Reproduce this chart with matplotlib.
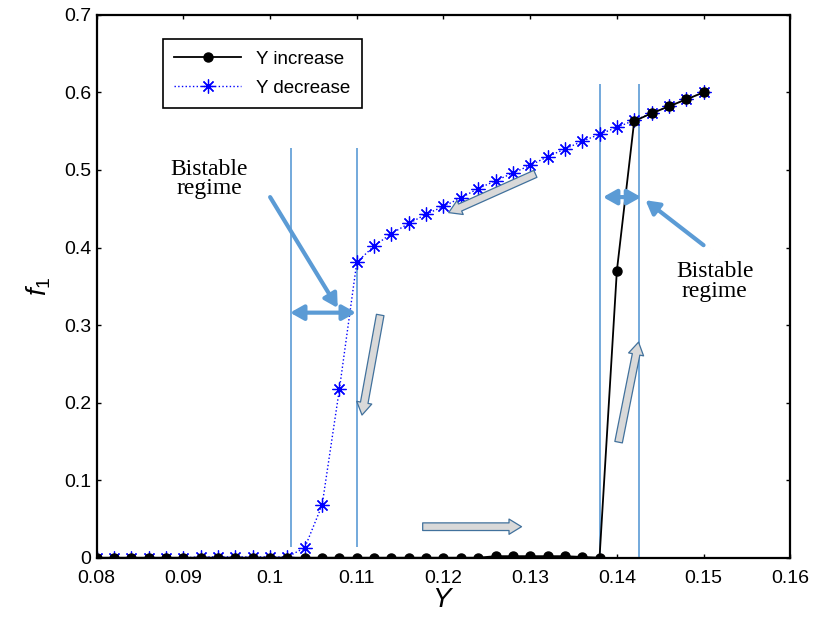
import numpy as np
from matplotlib import pyplot as plt

plt.rcParams['font.family'] = ['Liberation Sans', 'DejaVu Sans']
plt.rcParams['mathtext.fontset'] = 'custom'
plt.rcParams['mathtext.it'] = 'Liberation Sans:italic'
plt.rcParams['mathtext.rm'] = 'Liberation Sans'

# Y increase branch
y_inc = np.arange(0.08, 0.1501, 0.002)
f_inc = [0, 0, 0, 0, 0, 0, 0, 0, 0, 0, 0, 0,
         0, 0, 0, 0, 0, 0, 0, 0, 0, 0, 0,
         0.002, 0.002, 0.002, 0.002, 0.002, 0.001, 0.0,
         0.370, 0.563, 0.573, 0.582, 0.591, 0.600]

# Y decrease branch
y_dec = np.arange(0.15, 0.0799, -0.002)
f_dec = [0.600, 0.591, 0.582, 0.573, 0.564, 0.555, 0.546, 0.537, 0.527, 0.517,
         0.506, 0.496, 0.486, 0.476, 0.464, 0.453, 0.443, 0.431, 0.418, 0.402,
         0.381, 0.218, 0.068, 0.013, 0.001, 0.001, 0.001, 0.001, 0.001, 0.001,
         0.0, 0.0, 0.0, 0.0, 0.0, 0.0]

regime_left = [0.1024, 0.1100]
regime_right = [0.1381, 0.1425]

fig = plt.figure(figsize=(8.13, 6.19), dpi=100)
ax = fig.add_axes([0.119, 0.099, 0.853, 0.877])

blue = '#5B9BD5'

ax.vlines(regime_left, 0.014, 0.528, color=blue, lw=1.2, zorder=1)
ax.vlines(regime_right, 0, 0.611, color=blue, lw=1.2, zorder=1)

ax.plot(y_inc, f_inc, '-', color='k', lw=1.3, marker='o', ms=6.5, label='Y increase', zorder=3)
ax.plot(y_dec, f_dec, ':', color='b', lw=1, marker=(8, 2, 0), ms=10, mew=0.9,
        label='Y decrease', zorder=2)

# blue annotation arrows
arr = dict(arrowstyle='-|>,head_length=0.8,head_width=0.45', color=blue, lw=3,
           shrinkA=0, shrinkB=0)
dbl = dict(arrowstyle='<|-|>,head_length=0.8,head_width=0.45', color=blue, lw=3,
           shrinkA=0, shrinkB=0)
ax.annotate('', xy=(0.1078, 0.322), xytext=(0.1000, 0.465), arrowprops=arr)
ax.annotate('', xy=(0.1099, 0.316), xytext=(0.1023, 0.316), arrowprops=dbl)
ax.annotate('', xy=(0.1428, 0.465), xytext=(0.1384, 0.465), arrowprops=dbl)
ax.annotate('', xy=(0.1433, 0.461), xytext=(0.1500, 0.403), arrowprops=arr)

# gray block arrows showing sweep direction
grey = dict(arrowstyle='simple,head_length=0.9,head_width=1.1,tail_width=0.55',
            fc='#D9D9D9', ec='#41719C', lw=0.9, shrinkA=0, shrinkB=0)
ax.annotate('', xy=(0.1206, 0.445), xytext=(0.1306, 0.495), arrowprops=grey)
ax.annotate('', xy=(0.1106, 0.184), xytext=(0.1127, 0.313), arrowprops=grey)
ax.annotate('', xy=(0.1290, 0.040), xytext=(0.1176, 0.040), arrowprops=grey)
ax.annotate('', xy=(0.1425, 0.278), xytext=(0.1402, 0.149), arrowprops=grey)

ax.text(0.0930, 0.488, 'Bistable\nregime', family='Liberation Serif', fontsize=17,
        ha='center', va='center', linespacing=0.9)
ax.text(0.1513, 0.356, 'Bistable\nregime', family='Liberation Serif', fontsize=17,
        ha='center', va='center', linespacing=0.9)

ax.set_xlim(0.08, 0.16)
ax.set_ylim(0, 0.7)
ax.set_xticks(np.arange(0.08, 0.1601, 0.01))
ax.set_xticklabels(['0.08', '0.09', '0.1', '0.11', '0.12', '0.13', '0.14', '0.15', '0.16'])
ax.set_yticks(np.arange(0, 0.701, 0.1))
ax.set_yticklabels(['0', '0.1', '0.2', '0.3', '0.4', '0.5', '0.6', '0.7'])
ax.tick_params(direction='in', top=True, right=True, labelsize=14, length=3, width=1)
ax.tick_params(axis='x', pad=9)
ax.tick_params(axis='y', pad=4)
for s in ax.spines.values():
    s.set_linewidth(1.6)

ax.set_xlabel('$Y$', fontsize=20, labelpad=0)
ax.set_ylabel('$f_1$', fontsize=20, labelpad=8)

leg = ax.legend(loc='upper left', bbox_to_anchor=(0.095, 0.955), borderaxespad=0,
                fontsize=13.5, fancybox=False, edgecolor='k', framealpha=1,
                borderpad=0.6, handlelength=3.6, labelspacing=0.65)
leg.get_frame().set_linewidth(1.2)

plt.savefig('out.png', dpi=100)
